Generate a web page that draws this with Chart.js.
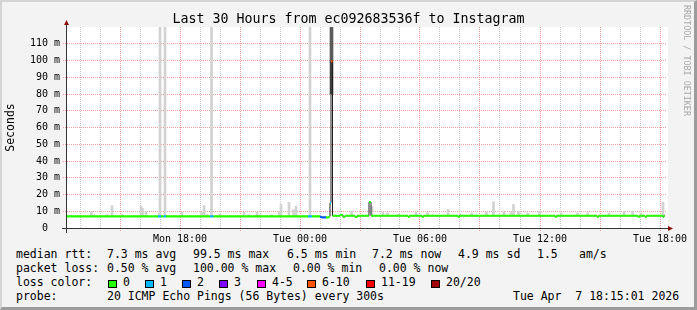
<!DOCTYPE html>
<html>
<head>
<meta charset="utf-8">
<script src="https://cdn.jsdelivr.net/npm/chart.js@4.4.1/dist/chart.umd.min.js"></script>
<style>
html,body{margin:0;padding:0}
body{width:697px;height:310px;overflow:hidden;position:relative;background:#f3f3f3;font-family:"DejaVu Sans Mono",monospace;color:#000}
#frame{position:absolute;left:0;top:0;width:697px;height:310px;box-sizing:border-box;border-top:2px solid #d4d4d4;border-left:2px solid #d4d4d4;border-right:3px solid #9c9c9c;border-bottom:3px solid #9c9c9c}
#c{position:absolute;left:0;top:0}
.t{position:absolute;white-space:pre;font-size:11.5px;line-height:14px}
.box{position:absolute;width:9px;height:8px;box-sizing:border-box;border:1px solid #000;top:280px}
#title{position:absolute;left:0;top:11px;width:697px;text-align:center;font-size:13.3px;line-height:16px;white-space:pre}
#mark{position:absolute;left:682px;top:5px;writing-mode:vertical-rl;font-size:8.4px;line-height:10px;color:#a8a8a8;white-space:pre}
</style>
</head>
<body>
<div id="frame"></div>
<canvas id="c" width="697" height="245"></canvas>
<div id="title">Last 30 Hours from ec092683536f to Instagram</div>
<div id="mark">RRDTOOL / TOBI OETIKER</div>
<div id="legend"></div>
<script>

// loss classes (20 pings)
let lossLabels=["0","1","2","3","4-5","6-10","11-19","20/20"]
let lossColors=["#26ff00","#00b8ff","#0059ff","#7e00ff","#ff00ff","#ff5500","#ff0000","#a10000"]

// median rtt, as runs: start hour (0 = Mon 00:00), value in ms, loss class
let runStart=[12.35,16.90,17.05,17.175,17.30,19.50,19.675,24.40,24.60,25.00,25.075,25.30,25.45,25.50,25.55,25.625,26.00,26.15,26.25,26.75,26.875,27.45,27.55,29.40,29.475,30.10,30.175,31.90,31.975,36.75,36.825,38.85,38.925,40.90,40.975,41.25,41.325,42.15,42.20]
let runValue=[6.9,6.9,6.9,6.9,6.9,6.9,6.9,6.9,6.9,6.6,6.3,6.3,6.9,15.0,99.5,7.3,7.7,6.6,7.3,6.6,7.3,15.5,7.3,6.7,7.3,6.7,7.3,6.7,7.3,6.7,7.3,6.7,7.3,6.7,7.3,6.7,7.3,6.7,7.3]
let runLoss=[0,1,0,1,0,1,0,1,0,2,2,0,0,1,5,0,0,0,0,0,0,0,0,0,0,0,0,0,0,0,0,0,0,0,0,0,0,0,0]
let dataEnd=42.25

// smoke spikes: hour, highest ping (ms)
let smokeTime=[13.575,13.70,14.35,14.60,15.10,16.05,16.125,16.30,16.975,17.00,17.25,18.10,19.075,19.20,19.35,19.575,20.00,21.20,21.45,21.85,22.00,22.575,22.975,23.05,23.45,23.675,23.80,24.50,26.05,26.575,27.60,28.15,28.375,28.925,29.80,30.375,31.40,32.00,32.575,33.325,33.675,34.20,34.55,34.675,34.925,35.375,35.975,37.05,37.875,38.375,39.45,40.20,40.625,41.05,42.15]
let smokeTop=[10,8,8,13.3,8,13,11.7,10,9,125,125,9.3,9.3,13.3,8.3,125,8.3,9.3,8,9.3,8,8,10,14,15.3,11,13,125,8.5,10,13,9.3,9,8.3,9.3,9.3,11,8.5,9,9.5,15.7,10,9.5,14,10,9,10,9,9,9,9,10,10,9,15.5]

// dense smoke at the big spike
let spikeSmokeTime=[25.575]
let spikeSmokeLow=[80]
let spikeSmokeHigh=[125]

let xMin=12.35
let xMax=42.35
let xTickValues=[18,24,30,36,42]
let xTickLabels=["Mon 18:00","Tue 00:00","Tue 06:00","Tue 12:00","Tue 18:00"]
let yTickValues=[0,10,20,30,40,50,60,70,80,90,100,110]
let yTickLabels=["0  ","10 m","20 m","30 m","40 m","50 m","60 m","70 m","80 m","90 m","100 m","110 m"]

let majorGrid="#f0a0a0"
let minorGrid="#c8c8c8"

function medianAt(t){
let v=runValue[0]
for(let i=0;i<runStart.length;i++){
if(runStart[i]<=t) v=runValue[i]
}
return v
}

// one short band per run, like smokeping's loss coloured median
function lossSeries(c){
let pts=[]
for(let i=0;i<runStart.length;i++){
if(runLoss[i]!==c) continue
let end=i+1<runStart.length?runStart[i+1]:dataEnd
pts.push({x:runStart[i],y:runValue[i]},{x:end,y:runValue[i]},{x:end,y:null})
}
return pts
}

let blackLine=runStart.map((t,i)=>({x:t,y:runValue[i]}))
blackLine.push({x:dataEnd,y:runValue[runValue.length-1]})

let datasets=[]

lossColors.forEach((col,c)=>{
let pts=lossSeries(c)
if(!pts.length) return
datasets.push({type:"line",data:pts,borderColor:col,borderWidth:2.2,borderCapStyle:"butt",pointRadius:0,tension:0,spanGaps:false,order:1})
})

datasets.push({type:"line",data:blackLine,stepped:"before",borderColor:"#202020",borderWidth:1,pointRadius:0,order:2})

datasets.push({type:"bar",data:smokeTime.map((t,i)=>({x:t,y:[medianAt(t),smokeTop[i]]})),backgroundColor:"#d2d2d2",barThickness:2,grouped:false,order:3})

datasets.push({type:"bar",data:spikeSmokeTime.map((t,i)=>({x:t,y:[spikeSmokeLow[i],spikeSmokeHigh[i]]})),backgroundColor:"#5a5a5a",barThickness:3,grouped:false,order:3})

let hourTicks=[]
for(let h=13;h<=42;h++) hourTicks.push({value:h})
let fiveTicks=[]
for(let v=0;v<120;v+=5) fiveTicks.push({value:v})

let frame={
id:"frame",
beforeDraw(chart){
let a=chart.chartArea,ctx=chart.ctx
ctx.save()
ctx.fillStyle="#fff"
ctx.fillRect(a.left,a.top,a.right-a.left+1,a.bottom-a.top)
ctx.restore()
},
afterDraw(chart){
let a=chart.chartArea,ctx=chart.ctx
ctx.save()
ctx.strokeStyle="#333"
ctx.lineWidth=1
ctx.beginPath()
ctx.moveTo(a.left-5,a.bottom+0.5)
ctx.lineTo(a.right+2,a.bottom+0.5)
ctx.moveTo(a.left-0.5,a.bottom+5)
ctx.lineTo(a.left-0.5,a.top-2)
ctx.stroke()
ctx.fillStyle="#8b1010"
ctx.beginPath()
ctx.moveTo(a.right+1,a.bottom-2)
ctx.lineTo(a.right+6,a.bottom+0.5)
ctx.lineTo(a.right+1,a.bottom+3)
ctx.fill()
ctx.beginPath()
ctx.moveTo(a.left-3,a.top-2)
ctx.lineTo(a.left-0.5,a.top-7)
ctx.lineTo(a.left+2,a.top-2)
ctx.fill()
ctx.restore()
}
}

new Chart(document.getElementById("c"),{
type:"line",
data:{datasets},
options:{
responsive:false,
animation:false,
events:[],
layout:{padding:{left:0,top:27,right:30,bottom:0}},
plugins:{legend:{display:false},tooltip:{enabled:false}},
scales:{
x:{
type:"linear",
min:xMin,max:xMax,
offset:false,
afterBuildTicks:s=>{s.ticks=hourTicks.map(t=>({value:t.value}))},
afterFit:s=>{s.height=17},
ticks:{
autoSkip:false,maxRotation:0,padding:2,color:"#000",
font:{family:"DejaVu Sans Mono",size:10},
callback:v=>{let i=xTickValues.indexOf(v);return i<0?"":xTickLabels[i]}
},
grid:{
offset:false,
color:c=>c.tick&&c.tick.value%3===0?majorGrid:minorGrid,
tickColor:c=>c.tick&&c.tick.value%3===0?majorGrid:"rgba(0,0,0,0)",
tickLength:3,
tickBorderDash:[1,1]
},
border:{display:false,dash:[1,1]}
},
y:{
type:"linear",
min:0,max:120,
afterBuildTicks:s=>{s.ticks=fiveTicks.map(t=>({value:t.value}))},
afterFit:s=>{s.width=67},
ticks:{
padding:3,color:"#000",
font:{family:"DejaVu Sans Mono",size:10},
callback:v=>{let i=yTickValues.indexOf(v);return i<0?"":yTickLabels[i]}
},
grid:{
color:c=>c.tick&&c.tick.value%10===0?majorGrid:minorGrid,
tickColor:c=>c.tick&&c.tick.value%10===0?majorGrid:"rgba(0,0,0,0)",
tickLength:4,
tickBorderDash:[1,1]
},
border:{display:false,dash:[1,1]},
title:{display:true,text:"Seconds",color:"#000",font:{family:"DejaVu Sans Mono",size:11.5},padding:{top:4,bottom:0}}
}
}
},
plugins:[frame]
})

// text legend below the graph
let legend=document.getElementById("legend")
let texts=[
["median rtt:",16,247],["7.3 ms avg",107,247],["99.5 ms max",193,247],["6.5 ms min",287,247],["7.2 ms now",372,247],["4.9 ms sd",458,247],["1.5",537,247],["am/s",579,247],
["packet loss:",16,261],["0.50 % avg",107,261],["100.00 % max",193,261],["0.00 % min",293,261],["0.00 % now",379,261],
["loss color:",16,275],
["probe:",16,289],["20 ICMP Echo Pings (56 Bytes) every 300s",107,289],["Tue Apr  7 18:15:01 2026",513,289]
]
texts.forEach(t=>{
legend.innerHTML+=`<div class="t" style="left:${t[1]}px;top:${t[2]}px">${t[0]}</div>`
})
let boxX=[108,145,182,219,257,307,366,431]
lossLabels.forEach((l,i)=>{
legend.innerHTML+=`<div class="box" style="left:${boxX[i]}px;background:${lossColors[i]}"></div>`
legend.innerHTML+=`<div class="t" style="left:${boxX[i]+15}px;top:275px">${l}</div>`
})

</script>
</body>
</html>
